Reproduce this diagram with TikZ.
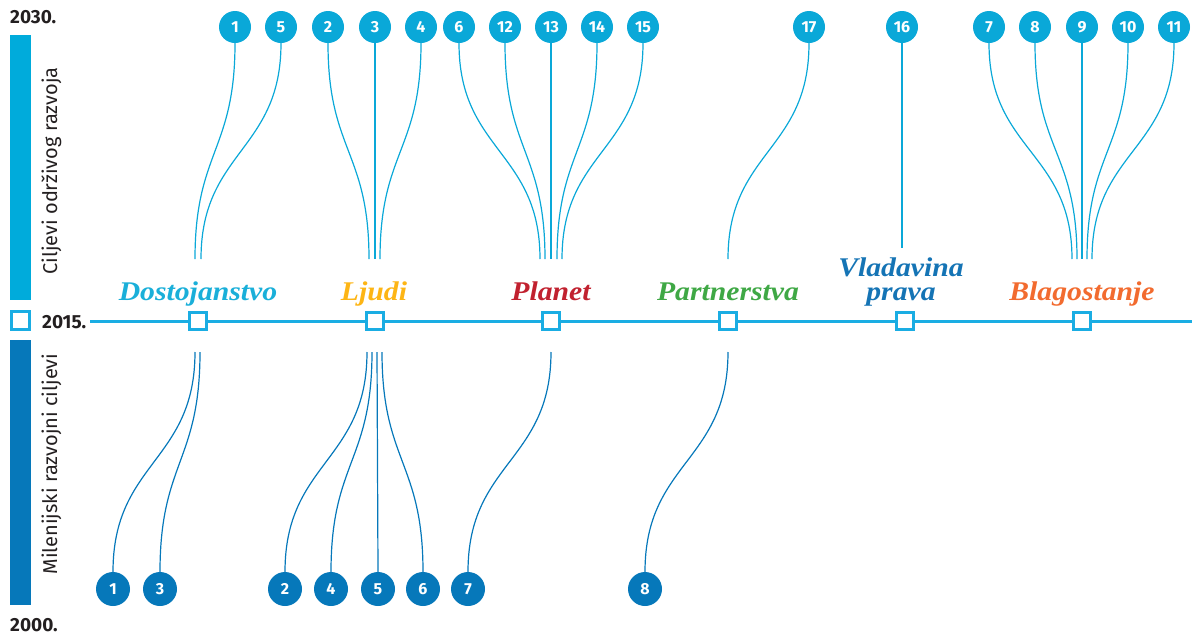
\documentclass[tikz,border=0pt]{standalone}
\usepackage{fontspec}
\setmainfont{Fira Sans}
\newfontfamily\catfont[FakeStretch=1.1]{Liberation Serif}

\definecolor{sdgcyan}{HTML}{0AA8D8}
\definecolor{barcyan}{HTML}{00ABDB}
\definecolor{mdgblue}{HTML}{0678BA}
\definecolor{linecyan}{HTML}{1AADE3}
\definecolor{darktext}{HTML}{231F20}
\definecolor{catdost}{HTML}{1AAFD9}
\definecolor{catljudi}{HTML}{FDB515}
\definecolor{catplanet}{HTML}{C1212F}
\definecolor{catpartner}{HTML}{3FA845}
\definecolor{catvlad}{HTML}{1574B5}
\definecolor{catblago}{HTML}{F26B2F}

\begin{document}
\begin{tikzpicture}[x=1pt,y=-1pt,
    sdg/.style={circle,fill=sdgcyan,text=white,minimum size=32pt,inner sep=0pt,font=\bfseries\fontsize{16}{16}\selectfont},
    mdg/.style={circle,fill=mdgblue,text=white,minimum size=34pt,inner sep=0pt,font=\bfseries\fontsize{16}{16}\selectfont},
    pillar/.style={rectangle,draw=linecyan,line width=3pt,fill=white,minimum size=17pt,inner sep=0pt},
    link/.style={draw=sdgcyan,line width=1.2pt},
    mlink/.style={draw=mdgblue,line width=1.2pt},
    cat/.style={anchor=base,inner sep=0pt,font=\catfont\bfseries\itshape\fontsize{27}{24}\selectfont},
    year/.style={anchor=base west,inner sep=0pt,text=darktext,font=\bfseries\fontsize{19}{19}\selectfont},
    side/.style={rotate=90,anchor=base,inner sep=0pt,text=darktext,font=\fontsize{20}{20}\selectfont}]
    \useasboundingbox (0,0) rectangle (1192,635);

    % Side bars and years
    \fill[barcyan] (10,35) rectangle (31,300);
    \fill[mdgblue] (10,340) rectangle (31,605);
    \node[pillar,minimum size=18pt] (now) at (20.5,320) {};
    \node[year] (y2030) at (10,23) {2030.};
    \node[year] (y2015) at (42,328) {2015.};
    \node[year] (y2000) at (10,631) {2000.};
    \node[side] (sdgtitle) at (57,171) {Ciljevi održivog razvoja};
    \node[side] (mdgtitle) at (57,464) {Milenijski razvojni ciljevi};

    % Timeline
    \coordinate (tl0) at (90,321);
    \coordinate (tl1) at (1192,321);
    \draw[linecyan,line width=3pt] (tl0) -- (tl1);
    \node[pillar] (dost) at (198,321) {};
    \node[pillar] (ljudi) at (375,321) {};
    \node[pillar] (planet) at (551,321) {};
    \node[pillar] (partner) at (728,321) {};
    \node[pillar] (vlad) at (905,321) {};
    \node[pillar] (blago) at (1082,321) {};

    % Labels
    \node[cat,text=catdost] (dostlbl) at (198,300) {Dostojanstvo};
    \node[cat,text=catljudi] (ljudilbl) at (374,300) {Ljudi};
    \node[cat,text=catplanet] (planetlbl) at (551,300) {Planet};
    \node[cat,text=catpartner] (partnerlbl) at (728,300) {Partnerstva};
    \node[cat,text=catvlad,align=center] (vladlbl) at (901,300) {Vladavina\\prava};
    \node[cat,text=catblago] (blagolbl) at (1082,300) {Blagostanje};

    % Sustainable development goals (2030.)
    \node[sdg] (c1) at (235,27) {1};
    \node[sdg] (c5) at (281,27) {5};
    \node[sdg] (c2) at (328,27) {2};
    \node[sdg] (c3) at (375,27) {3};
    \node[sdg] (c4) at (421,27) {4};
    \node[sdg] (c6) at (459,27) {6};
    \node[sdg] (c12) at (505,27) {12};
    \node[sdg] (c13) at (551,27) {13};
    \node[sdg] (c14) at (597,27) {14};
    \node[sdg] (c15) at (643,27) {15};
    \node[sdg] (c17) at (809,27) {17};
    \node[sdg] (c16) at (902,27) {16};
    \node[sdg] (c7) at (989,27) {7};
    \node[sdg] (c8) at (1035,27) {8};
    \node[sdg] (c9) at (1082,27) {9};
    \node[sdg] (c10) at (1128,27) {10};
    \node[sdg] (c11) at (1174,27) {11};

    \coordinate (c1e) at (195,259);
    \coordinate (c5e) at (201,259);
    \coordinate (c2e) at (369,259);
    \coordinate (c3e) at (375,259);
    \coordinate (c4e) at (380,259);
    \coordinate (c6e) at (540,259);
    \coordinate (c12e) at (545,259);
    \coordinate (c13e) at (551,259);
    \coordinate (c14e) at (557,259);
    \coordinate (c15e) at (562,259);
    \coordinate (c17e) at (728,259);
    \coordinate (c16e) at (902,248);
    \coordinate (c7e) at (1072,259);
    \coordinate (c8e) at (1077,259);
    \coordinate (c9e) at (1082,259);
    \coordinate (c10e) at (1087,259);
    \coordinate (c11e) at (1092,259);

    \draw[link] (c1.south) .. controls +(0,108) and +(0,-108) .. (c1e);
    \draw[link] (c5.south) .. controls +(0,108) and +(0,-108) .. (c5e);
    \draw[link] (c2.south) .. controls +(0,108) and +(0,-108) .. (c2e);
    \draw[link] (c3.south) -- (c3e);
    \draw[link] (c4.south) .. controls +(0,108) and +(0,-108) .. (c4e);
    \draw[link] (c6.south) .. controls +(0,108) and +(0,-108) .. (c6e);
    \draw[link] (c12.south) .. controls +(0,108) and +(0,-108) .. (c12e);
    \draw[link] (c13.south) -- (c13e);
    \draw[link] (c14.south) .. controls +(0,108) and +(0,-108) .. (c14e);
    \draw[link] (c15.south) .. controls +(0,108) and +(0,-108) .. (c15e);
    \draw[link] (c17.south) .. controls +(0,108) and +(0,-108) .. (c17e);
    \draw[link] (c16.south) -- (c16e);
    \draw[link] (c7.south) .. controls +(0,108) and +(0,-108) .. (c7e);
    \draw[link] (c8.south) .. controls +(0,108) and +(0,-108) .. (c8e);
    \draw[link] (c9.south) -- (c9e);
    \draw[link] (c10.south) .. controls +(0,108) and +(0,-108) .. (c10e);
    \draw[link] (c11.south) .. controls +(0,108) and +(0,-108) .. (c11e);

    % Millennium development goals (2000.)
    \node[mdg] (m1) at (113,589) {1};
    \node[mdg] (m3) at (160,589) {3};
    \node[mdg] (m2) at (285,589) {2};
    \node[mdg] (m4) at (331,589) {4};
    \node[mdg] (m5) at (378,589) {5};
    \node[mdg] (m6) at (423,589) {6};
    \node[mdg] (m7) at (468,589) {7};
    \node[mdg] (m8) at (645,589) {8};

    \coordinate (m1e) at (195,352);
    \coordinate (m3e) at (200,352);
    \coordinate (m2e) at (367,352);
    \coordinate (m4e) at (372,352);
    \coordinate (m5e) at (377,352);
    \coordinate (m6e) at (382,352);
    \coordinate (m7e) at (551,352);
    \coordinate (m8e) at (728,352);

    \draw[mlink] (m1e) .. controls +(0,110) and +(0,-110) .. (m1.north);
    \draw[mlink] (m3e) .. controls +(0,110) and +(0,-110) .. (m3.north);
    \draw[mlink] (m2e) .. controls +(0,110) and +(0,-110) .. (m2.north);
    \draw[mlink] (m4e) .. controls +(0,110) and +(0,-110) .. (m4.north);
    \draw[mlink] (m5e) .. controls +(0,110) and +(0,-110) .. (m5.north);
    \draw[mlink] (m6e) .. controls +(0,110) and +(0,-110) .. (m6.north);
    \draw[mlink] (m7e) .. controls +(0,110) and +(0,-110) .. (m7.north);
    \draw[mlink] (m8e) .. controls +(0,110) and +(0,-110) .. (m8.north);
\end{tikzpicture}
\end{document}
